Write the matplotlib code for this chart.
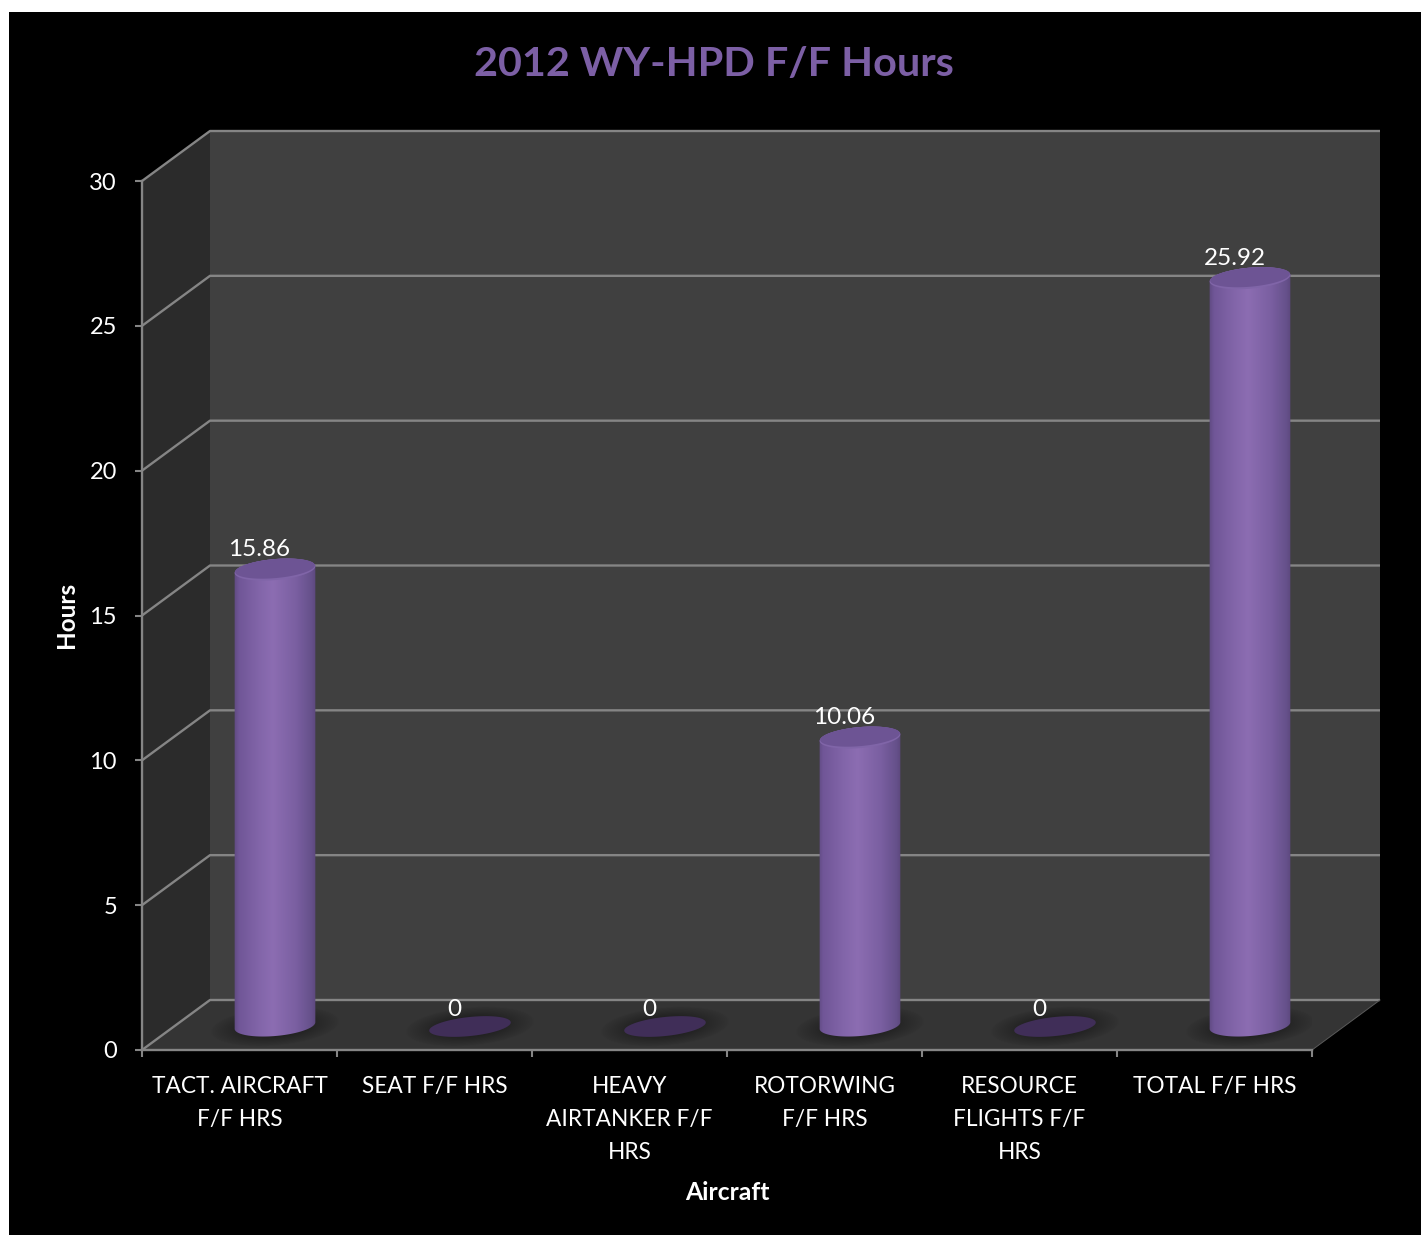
import numpy as np
import matplotlib
matplotlib.use('Agg')
import matplotlib.pyplot as plt
from matplotlib.colors import LinearSegmentedColormap
from matplotlib.patches import Polygon, Rectangle

categories = ['TACT. AIRCRAFT\nF/F HRS', 'SEAT F/F HRS', 'HEAVY\nAIRTANKER F/F\nHRS',
              'ROTORWING\nF/F HRS', 'RESOURCE\nFLIGHTS F/F\nHRS', 'TOTAL F/F HRS']
hours = [15.86, 0, 0, 10.06, 0, 25.92]
y_ticks = [0, 5, 10, 15, 20, 25, 30]

W, H = 1421, 1235
GREY = '#858585'
PURPLE = '#7c5fa5'
FONT = 'Lato'

# pixel sizes of one pixel in data units (6 categories over 1170 px, 30 h over 869 px)
PX_X = 6 / 1170
PX_Y = 30 / 869
DEPTH_X = 68 * PX_X
DEPTH_Y = 50 * PX_Y

fig = plt.figure(figsize=(W / 100, H / 100), dpi=100, facecolor='white')
fig.patches.append(Rectangle((9 / W, 0), 1, 1 - 12 / H, transform=fig.transFigure,
                             facecolor='black', edgecolor='none', zorder=-10))
ax = fig.add_axes([142 / W, (H - 1050) / H, 1170 / W, 869 / H])
ax.patch.set_visible(False)


def ellipse_points(cx, cy, a, b, t0=0, t1=2 * np.pi, tilt=5, n=80):
    # ellipse given in pixels around a centre given in data units
    t = np.linspace(t0, t1, n)
    th = np.radians(tilt)
    x = cx + (a * np.cos(t) * np.cos(th) - b * np.sin(t) * np.sin(th)) * PX_X
    y = cy + (a * np.cos(t) * np.sin(th) + b * np.sin(t) * np.cos(th)) * PX_Y
    return np.column_stack([x, y])


# walls and floor
ax.add_patch(Polygon([(DEPTH_X, DEPTH_Y), (6 + DEPTH_X, DEPTH_Y), (6 + DEPTH_X, 30 + DEPTH_Y), (DEPTH_X, 30 + DEPTH_Y)],
                     facecolor='#404040', edgecolor='none', zorder=1, clip_on=False))
ax.add_patch(Polygon([(0, 0), (DEPTH_X, DEPTH_Y), (DEPTH_X, 30 + DEPTH_Y), (0, 30)],
                     facecolor='#2b2b2b', edgecolor='none', zorder=1, clip_on=False))
floor = Polygon([(0, 0), (6, 0), (6 + DEPTH_X, DEPTH_Y), (DEPTH_X, DEPTH_Y)],
                facecolor='#343434', edgecolor='none', zorder=1, clip_on=False)
ax.add_patch(floor)

# gridlines run along the side wall and then the back wall
for v in y_ticks:
    ax.plot([0, DEPTH_X, 6 + DEPTH_X], [v, v + DEPTH_Y, v + DEPTH_Y], color=GREY, lw=1.7,
            zorder=2, clip_on=False, solid_capstyle='butt')
ax.plot([6, 6 + DEPTH_X], [0, DEPTH_Y], color='#5a5a5a', lw=0.7, zorder=2, clip_on=False)

# shadows under the bars
for i in range(len(hours)):
    cx = i + 0.5 + 35.5 * PX_X
    cy = 23.5 * PX_Y
    for k in np.linspace(1, 0.5, 18):
        sh = Polygon(ellipse_points(cx, cy, 64 * k, 19 * k), facecolor='#222222', edgecolor='none',
                     alpha=0.06, zorder=3)
        ax.add_patch(sh)
        sh.set_clip_path(floor)

body_cmap = LinearSegmentedColormap.from_list('body', [
    (0, '#5f4a82'), (0.06, '#705697'), (0.3, '#8265a9'), (0.47, '#8c6db2'),
    (0.75, '#7a5fa1'), (0.94, '#65508a'), (1, '#5a4679')])
gradient = np.linspace(0, 1, 256).reshape(1, -1)

for i, v in enumerate(hours):
    cx = i + 0.5 + 35.5 * PX_X
    base = 24.5 * PX_Y
    if v == 0:
        ax.add_patch(Polygon(ellipse_points(cx, 23.5 * PX_Y, 41, 9.5, tilt=6), facecolor='#402e58',
                             edgecolor='none', zorder=4))
    else:
        top = v + 21 * PX_Y
        lower = ellipse_points(cx, base, 40.5, 10.5, np.pi, 2 * np.pi)
        upper = ellipse_points(cx, top, 40.5, 10.5, 0, np.pi)
        body = Polygon(np.vstack([lower, upper]), transform=ax.transData, facecolor='none', edgecolor='none')
        ax.add_patch(body)
        img = ax.imshow(gradient, cmap=body_cmap, aspect='auto', zorder=4, interpolation='bilinear',
                        extent=[cx - 41.5 * PX_X, cx + 41.5 * PX_X, base - 12 * PX_Y, top + 12 * PX_Y])
        img.set_clip_path(body)
        # top face with a light front rim
        ax.add_patch(Polygon(ellipse_points(cx, top, 40.5, 10.5), facecolor='#8065a8', edgecolor='none', zorder=5))
        ax.add_patch(Polygon(ellipse_points(cx, top + 1 * PX_Y, 40, 9.5), facecolor='#6d5494',
                             edgecolor='none', zorder=5))
    # the labels sit at the front of the category, a little right of its centre
    label = f'{v:g}'
    ax.text(i + 0.5 + 20 * PX_X, v + 41 * PX_Y, label, color='white', fontsize=17.5, family=FONT,
            ha='center', va='center', zorder=6)

ax.set_xlim(0, 6)
ax.set_ylim(0, 30)

for side in ['top', 'right']:
    ax.spines[side].set_visible(False)
for side in ['left', 'bottom']:
    ax.spines[side].set_color(GREY)
    ax.spines[side].set_linewidth(1.7)
    ax.spines[side].set_zorder(7)

ax.set_yticks(y_ticks)
ax.set_xticks(range(7))
ax.set_xticklabels([])
ax.set_xticks(np.arange(len(categories)) + 0.5, labels=categories, minor=True)
ax.tick_params(axis='both', which='major', color=GREY, width=1.5, length=5)
ax.tick_params(axis='x', which='minor', length=0, pad=19, colors='white', labelsize=16.3)
ax.tick_params(axis='y', colors='white', labelsize=17, pad=13, color=GREY)
for t in ax.get_xticklabels(minor=True) + ax.get_yticklabels():
    t.set_family(FONT)
    t.set_color('white')
for t in ax.get_xticklabels(minor=True):
    t.set_verticalalignment('top')
    t.set_linespacing(1.68)

fig.text(714 / W, 1 - 64 / H, '2012 WY-HPD F/F Hours', color=PURPLE, fontsize=29.8, fontweight='bold',
         family=FONT, ha='center', va='center')
fig.text(67 / W, 1 - 615 / H, 'Hours', color='white', fontsize=17.5, fontweight='bold', family=FONT,
         rotation=90, ha='center', va='center')
fig.text(727 / W, 1 - 1192 / H, 'Aircraft', color='white', fontsize=17.8, fontweight='bold', family=FONT,
         ha='center', va='center')

fig.savefig('out.png', dpi=100, facecolor='white')
